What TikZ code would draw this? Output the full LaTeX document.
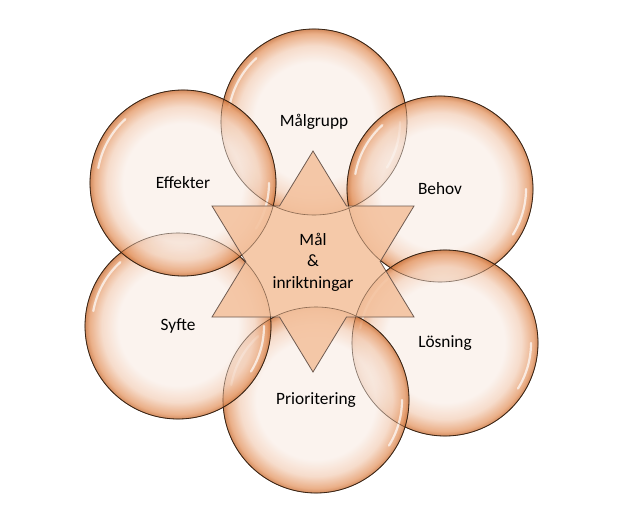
\documentclass[tikz,border=0pt]{standalone}
\usepackage{fontspec}
\setmainfont{Carlito}
\usetikzlibrary{calc}
\definecolor{bubIn}{HTML}{FAF0EA}
\definecolor{bubMid}{HTML}{F4D3BE}
\definecolor{bubRim}{HTML}{E59B6A}
\definecolor{bubEdge}{HTML}{C96F36}
\definecolor{bubLine}{HTML}{3A2414}
\definecolor{starFill}{HTML}{F4C3A0}
\definecolor{starLine}{HTML}{6E5A50}
\pgfdeclareradialshading{bubshade}{\pgfpoint{0bp}{0bp}}{color(0bp)=(bubIn); color(16bp)=(bubIn); color(20.5bp)=(bubMid); color(23.8bp)=(bubRim); color(25bp)=(bubEdge); color(50bp)=(bubEdge)}
\tikzset{
    bubble/.style={circle,draw=bubLine,line width=0.8pt,shading=bubshade,fill opacity=0.8,text opacity=1,minimum size=186pt,inner sep=0pt,font=\fontsize{17.3}{21.5}\selectfont},
    gloss/.style={white,line width=2.2pt,line cap=round,opacity=0.7},
    starshape/.style={draw=starLine,line width=0.8pt,fill=starFill,fill opacity=0.9},
    rim/.style={draw=bubLine,line width=0.6pt,opacity=0.5}
}
\begin{document}
\begin{tikzpicture}[x=1pt,y=-1pt]
\useasboundingbox (0,0) rectangle (631,524);

% six bubbles round the centre
\foreach \nm/\cx/\cy/\txt in {grp/314/122/Målgrupp,beh/440/189/Behov,los/445/343/Lösning,pri/316/400/Prioritering,syf/178/326/Syfte,eff/183/183/Effekter}{
    \node[bubble] (\nm) at (\cx,\cy) {\txt};
    \draw[gloss] (\nm.center) ++(-132:86) arc[start angle=-132,end angle=-170,radius=86];
    \draw[gloss] (\nm.center) ++(0:86) arc[start angle=0,end angle=32,radius=86];
}

% star in the middle
\draw[starshape] (313,151) -- (346.5,206) -- (414,206) -- (380.2,261.5) -- (414,317) -- (346.5,317)
    -- (313,372) -- (279.5,317) -- (212,317) -- (245.8,261.5) -- (212,206) -- (279.5,206) -- cycle;
\foreach \nm in {grp,beh,los,pri,syf,eff}
    \draw[rim] (\nm) circle[radius=93];
\node[align=center,font=\fontsize{17.3}{21.5}\selectfont] (goal) at (313,262) {Mål\\\&\\inriktningar};

\end{tikzpicture}
\end{document}
